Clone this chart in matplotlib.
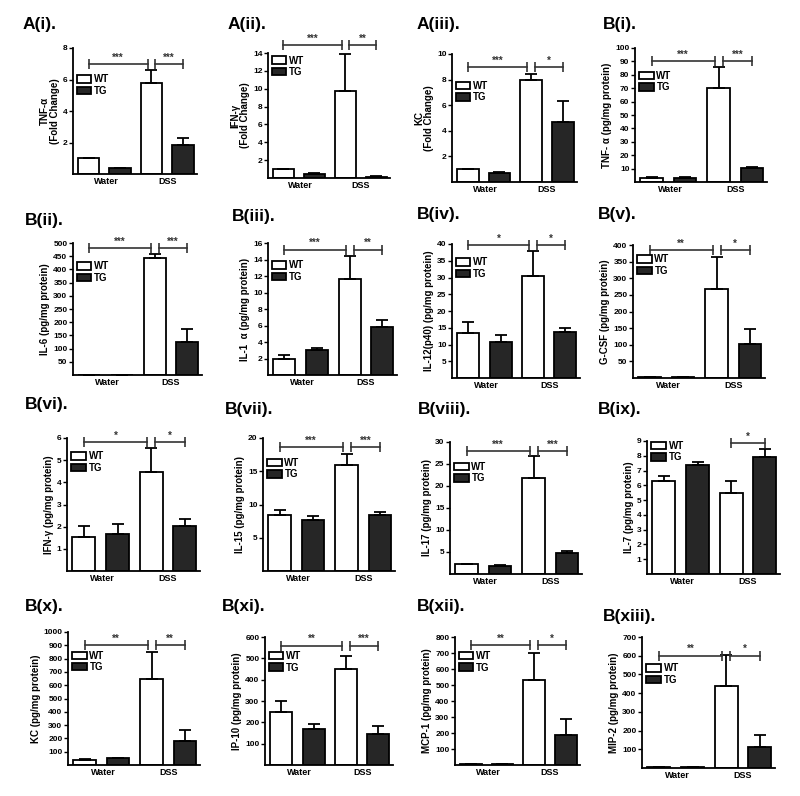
import numpy as np
import matplotlib
matplotlib.use("Agg")
import matplotlib.pyplot as plt

plt.rcParams['font.family'] = ['Liberation Sans', 'DejaVu Sans']
plt.rcParams['font.weight'] = 'bold'

# panel names and y labels
panel_names = ["A(i).", "A(ii).", "A(iii).", "B(i).",
               "B(ii).", "B(iii).", "B(iv).", "B(v).",
               "B(vi).", "B(vii).", "B(viii).", "B(ix).",
               "B(x).", "B(xi).", "B(xii).", "B(xiii)."]
ylabels = ["TNF-α\n(Fold Change)", "IFN-γ\n(Fold Change)", "KC\n(Fold Change)",
           "TNF- α (pg/mg protein)",
           "IL-6 (pg/mg protein)", "IL-1  α (pg/mg protein)",
           "IL-12(p40) (pg/mg protein)", "G-CSF (pg/mg protein)",
           "IFN-γ (pg/mg protein)", "IL-15 (pg/mg protein)",
           "IL-17 (pg/mg protein)", "IL-7 (pg/mg protein)",
           "KC (pg/mg protein)", "IP-10 (pg/mg protein)",
           "MCP-1 (pg/mg protein)", "MIP-2 (pg/mg protein)"]
ymax = [8, 14, 10, 100, 500, 16, 40, 400, 6, 20, 30, 9, 1000, 600, 800, 700]
ystep = [2, 2, 2, 10, 50, 2, 5, 50, 1, 5, 5, 1, 100, 100, 100, 100]

groups = ["Water", "DSS"]
series = ["WT", "TG"]

# (Water, DSS) means and upper error bars
wt_mean = [(1.0, 5.8), (1.0, 9.75), (1.0, 8.0), (3, 70),
           (1, 442), (2.0, 11.6), (13.4, 30.5), (3, 267),
           (1.52, 4.45), (8.4, 15.9), (2.2, 21.8), (6.3, 5.5),
           (40, 650), (250, 450), (5, 530), (5, 440)]
wt_err = [(0, 0.8), (0, 4.1), (0, 0.4), (0.5, 16),
          (0, 16), (0.45, 2.8), (3.2, 7.4), (0, 97),
          (0.5, 1.1), (0.7, 1.7), (0.15, 5.0), (0.35, 0.8),
          (5, 200), (50, 60), (0, 170), (0, 165)]
tg_mean = [(0.35, 1.85), (0.5, 0.15), (0.7, 4.7), (3, 10.5),
           (1, 125), (3.0, 5.8), (10.6, 13.8), (3, 102),
           (1.65, 2.02), (7.6, 8.35), (1.9, 4.7), (7.35, 7.9),
           (50, 180), (170, 145), (5, 190), (8, 110)]
tg_err = [(0.03, 0.45), (0.05, 0.02), (0.1, 1.6), (0.5, 1),
          (0, 50), (0.3, 0.85), (2.3, 1.1), (0, 45),
          (0.45, 0.32), (0.6, 0.55), (0.1, 0.5), (0.25, 0.55),
          (5, 80), (20, 40), (0, 100), (0, 65)]

# significance brackets: (bar i, bar j, height, stars); bars 0=WT water 1=TG water 2=WT DSS 3=TG DSS
sig = [[(0, 2, 7.0, "***"), (2, 3, 7.0, "***")],
       [(0, 2, 14.9, "***"), (2, 3, 14.9, "**")],
       [(0, 2, 9.0, "***"), (2, 3, 9.0, "*")],
       [(0, 2, 90, "***"), (2, 3, 90, "***")],
       [(0, 2, 480, "***"), (2, 3, 480, "***")],
       [(0, 2, 15.2, "***"), (2, 3, 15.2, "**")],
       [(0, 2, 39.6, "*"), (2, 3, 39.6, "*")],
       [(0, 2, 385, "**"), (2, 3, 385, "*")],
       [(0, 2, 5.8, "*"), (2, 3, 5.8, "*")],
       [(0, 2, 18.6, "***"), (2, 3, 18.6, "***")],
       [(0, 2, 28, "***"), (2, 3, 28, "***")],
       [(2, 3, 8.85, "*")],
       [(0, 2, 900, "**"), (2, 3, 900, "**")],
       [(0, 2, 560, "**"), (2, 3, 560, "***")],
       [(0, 2, 750, "**"), (2, 3, 750, "*")],
       [(0, 2, 600, "**"), (2, 3, 600, "*")]]

# layout in pixels: axes (left, top, right, bottom), legend top (axes fraction), panel label (x, y)
axes_px = [(73, 48, 197, 174), (268, 53, 390, 178), (452, 54, 577, 182), (635, 48, 767, 182),
           (73, 243, 202, 375), (268, 243, 397, 375), (452, 244, 580, 378), (633, 245, 765, 378),
           (67, 438, 200, 571), (263, 438, 395, 571), (450, 442, 582, 574), (647, 441, 780, 574),
           (68, 632, 200, 765), (265, 637, 393, 765), (455, 637, 580, 765), (642, 637, 775, 768)]
legend_y = [0.79, 0.98, 0.79, 0.83, 0.86, 0.87, 0.90, 0.93, 0.90, 0.85, 0.85, 1.0,
            0.86, 0.89, 0.89, 0.80]
label_px = [(23, 25), (228, 25), (417, 25), (603, 25),
            (25, 220), (232, 217), (417, 215), (598, 215),
            (25, 405), (225, 410), (418, 410), (598, 410),
            (25, 607), (222, 607), (417, 607), (603, 617)]

W, H = 800, 796
fig = plt.figure(figsize=(8, 7.96), dpi=100)

x = np.arange(4)
for k in range(16):
    l, t, r, b = axes_px[k]
    ax = fig.add_axes([l / W, 1 - b / H, (r - l) / W, (b - t) / H])
    means = [wt_mean[k][0], tg_mean[k][0], wt_mean[k][1], tg_mean[k][1]]
    errs = [wt_err[k][0], tg_err[k][0], wt_err[k][1], tg_err[k][1]]
    colors = ['white', '#262626', 'white', '#262626']
    bars = ax.bar(x, means, width=0.68, color=colors, edgecolor='black', linewidth=1.3, zorder=2)
    ax.errorbar(x, means, yerr=[np.zeros(4), errs], fmt='none', ecolor='black',
                elinewidth=1.3, capsize=4.5, capthick=1.3, zorder=3)

    ax.set_xlim(-0.5, 3.45)
    ax.set_ylim(0, ymax[k])
    ticks = np.arange(ystep[k], ymax[k] + ystep[k] / 2, ystep[k])
    ax.set_yticks(ticks)
    ax.set_yticklabels([str(int(v)) for v in ticks])
    ax.set_xticks([0.55, 2.5])
    ax.set_xticklabels(groups)
    ax.tick_params(axis='x', length=0, pad=2, labelsize=6.5)
    ax.tick_params(axis='y', length=3, width=1, pad=1, labelsize=6)
    for s in ['top', 'right']:
        ax.spines[s].set_visible(False)
    for s in ['left', 'bottom']:
        ax.spines[s].set_linewidth(1.3)
    ax.set_ylabel(ylabels[k], fontsize=7, fontweight='bold', labelpad=2, linespacing=1.0)

    ax.legend([bars[0], bars[1]], series, loc='upper left', bbox_to_anchor=(0.03, legend_y[k]),
              frameon=False, fontsize=7, handlelength=1.5, handleheight=0.8,
              labelspacing=0.15, handletextpad=0.3, borderaxespad=0, borderpad=0)

    gap = 0.12 if len(sig[k]) > 1 else 0.0
    for i, j, yv, stars in sig[k]:
        x0 = x[i] + (gap if i == 2 else 0)
        x1 = x[j] - (gap if j == 2 else 0)
        ax.plot([x0, x1], [yv, yv], color='#333333', lw=1.2, marker='|',
                markersize=7, markeredgewidth=1.2, clip_on=False, zorder=4)
        ax.annotate(stars, ((x0 + x1) / 2, yv), xytext=(0, 1), textcoords='offset points',
                    ha='center', va='bottom', fontsize=7, color='#333333',
                    annotation_clip=False)

    fig.text(label_px[k][0] / W, 1 - label_px[k][1] / H, panel_names[k],
             fontsize=12.5, fontweight='bold', ha='left', va='center')

fig.savefig("out.png", dpi=100)
